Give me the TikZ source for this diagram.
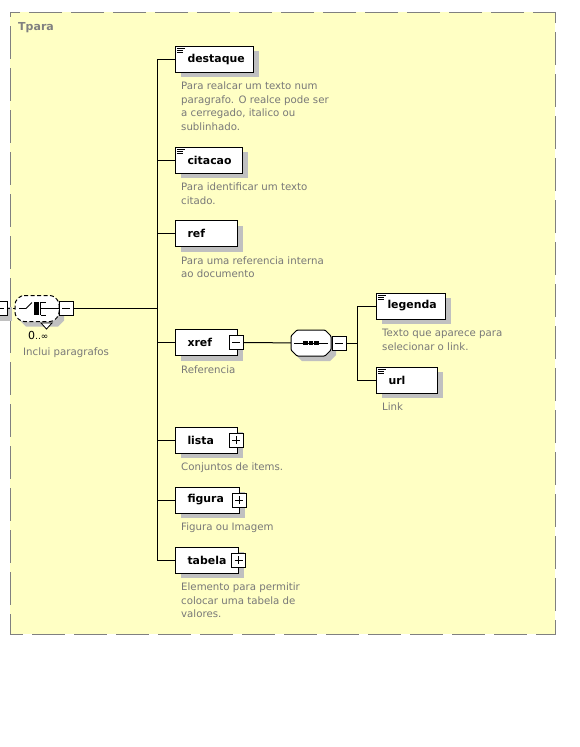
\documentclass[tikz,border=0pt]{standalone}
\usepackage{fontspec}
\setmainfont{DejaVu Sans}
\usetikzlibrary{positioning,shadows}
\definecolor{panelfill}{RGB}{255,255,196}
\definecolor{panelline}{RGB}{128,128,128}
\definecolor{doctext}{RGB}{120,120,120}
\definecolor{shadegray}{RGB}{192,192,192}
\tikzset{
  wire/.style={line width=1pt},
  boxshade/.style={drop shadow={shadow xshift=5pt, shadow yshift=-5pt, fill=shadegray, opacity=1}},
  elem/.style={draw, fill=white, line width=1pt, anchor=west, text width=#1, align=left,
    inner xsep=12pt, minimum height=26pt, font=\fontsize{10.9}{12}\selectfont\bfseries, boxshade},
  docnote/.style={anchor=base west, align=left, inner sep=0pt, text=doctext,
    font=\fontsize{10.2}{13.5}\selectfont},
  expbox/.style={draw, fill=white, line width=0.9pt, minimum width=14pt, minimum height=14pt, inner sep=0pt},
  expminus/.style={expbox, path picture={
    \draw[line width=0.9pt] ([xshift=3pt]path picture bounding box.west) -- ([xshift=-3pt]path picture bounding box.east);}},
  expplus/.style={expbox, path picture={
    \draw[line width=0.9pt] ([xshift=3pt]path picture bounding box.west) -- ([xshift=-3pt]path picture bounding box.east);
    \draw[line width=0.9pt] ([yshift=-3pt]path picture bounding box.north) -- ([yshift=3pt]path picture bounding box.south);}},
}
% compositor outline: name, x, y, half width, style of the outline
\newcommand{\compositor}[5]{%
  \fill[shadegray] (#2-#4+11,#3-8) -- (#2+#4-1,#3-8) -- (#2+#4+5,#3-2) -- (#2+#4+5,#3+12)
    -- (#2+#4-1,#3+18) -- (#2-#4+11,#3+18) -- (#2-#4+5,#3+12) -- (#2-#4+5,#3-2) -- cycle;
  \draw[fill=white, line width=1pt, #5] (#2-#4+6,#3-13) -- (#2+#4-6,#3-13) -- (#2+#4,#3-7) -- (#2+#4,#3+7)
    -- (#2+#4-6,#3+13) -- (#2-#4+6,#3+13) -- (#2-#4,#3+7) -- (#2-#4,#3-7) -- cycle;
  \node[minimum width=2*#4, minimum height=26pt, inner sep=0pt] (#1) at (#2,#3) {};
}
\newcommand{\docicon}[1]{%
  \draw[line width=0.8pt] ([xshift=2pt,yshift=-3pt]#1.north west) -- ++(8,0);
  \draw[line width=0.8pt] ([xshift=2pt,yshift=-5pt]#1.north west) -- ++(6,0);
  \draw[line width=0.8pt] ([xshift=2pt,yshift=-7pt]#1.north west) -- ++(6,0);
}

\begin{document}
\begin{tikzpicture}[x=1pt, y=-1pt]
  \useasboundingbox (0,0) rectangle (579,747);
  % complex type frame
  \draw[fill=panelfill, draw=panelline, line width=1pt, dash pattern=on 33pt off 9pt, dash phase=28pt]
    (10,12) rectangle (555,634);
  \node[anchor=west, inner sep=0pt, text=panelline, font=\fontsize{11}{12}\selectfont\bfseries] (title) at (18,28) {Tpara};

  % parent and choice
  \node[expminus, boxshade] (parentexp) at (0,308.5) {};
  \compositor{choice}{37}{308.5}{22}{dash pattern=on 4pt off 2.5pt, rounded corners=3pt}
  \node[expminus] (choiceexp) at (66,308.5) {};
  \draw[wire, dash pattern=on 3pt off 3pt] (parentexp) -- (choice);
  \fill[white, draw=black, line width=0.8pt] (41,323) -- (52,323) -- (46.5,329) -- cycle;
  % choice symbol
  \draw[line width=0.9pt] ([xshift=-18pt]choice.center) -- ++(7,0) -- ++(6,-6);
  \fill (choice.center) ++(-3,-6.5) rectangle ++(5,13);
  \draw[line width=0.9pt] (choice.center) ++(3.5,-6.5) -- ++(0,13)
    (choice.center) ++(3.5,-6.5) -- ++(5,0)
    (choice.center) ++(3.5,0) -- ++(5,0)
    (choice.center) ++(3.5,6.5) -- ++(5,0)
    ([xshift=8.5pt]choice.center) -- (choice.east);
  \node[anchor=base west, inner sep=0pt, font=\fontsize{11}{12}\selectfont] (occurs) at (28,339) {0\fontsize{9}{10}\selectfont..∞};
  \node[docnote] (choice-doc) at (23,355) {Inclui paragrafos};

  % children of the choice
  \node[elem=54pt] (destaque) at (175,59) {destaque};
  \node[elem=43pt] (citacao) at (175,160) {citacao};
  \node[elem=38pt] (ref) at (175,233.5) {ref};
  \node[elem=38pt] (xref) at (175,342.5) {xref};
  \node[elem=38pt] (lista) at (175,440) {lista};
  \node[elem=40pt] (figura) at (175,500) {figura};
  \node[elem=39pt] (tabela) at (175,560) {tabela};
  \docicon{destaque}
  \docicon{citacao}

  \node[expminus] (xrefexp) at ([xshift=-2pt]xref.east) {};
  \node[expplus] (listaexp) at ([xshift=-2pt]lista.east) {};
  \node[expplus] (figuraexp) at ([xshift=-1pt]figura.east) {};
  \node[expplus] (tabelaexp) at ([xshift=-0.5pt]tabela.east) {};

  % base of the last line: 17pt below the box, 13.5pt per line
  \node[docnote] (destaque-doc) at ([xshift=6pt,yshift=-57.5pt]destaque.south west)
    {Para realcar um texto num\\paragrafo. O realce pode ser\\a cerregado, italico ou\\sublinhado.};
  \node[docnote] (citacao-doc) at ([xshift=6pt,yshift=-30.5pt]citacao.south west) {Para identificar um texto\\citado.};
  \node[docnote] (ref-doc) at ([xshift=6pt,yshift=-30.5pt]ref.south west) {Para uma referencia interna\\ao documento};
  \node[docnote] (xref-doc) at ([xshift=6pt,yshift=-17pt]xref.south west) {Referencia};
  \node[docnote] (lista-doc) at ([xshift=6pt,yshift=-17pt]lista.south west) {Conjuntos de items.};
  \node[docnote] (figura-doc) at ([xshift=6pt,yshift=-17pt]figura.south west) {Figura ou Imagem};
  \node[docnote] (tabela-doc) at ([xshift=6pt,yshift=-44pt]tabela.south west)
    {Elemento para permitir\\colocar uma tabela de\\valores.};

  \coordinate (hub) at (157,308.5);
  \draw[wire] (choiceexp) -- (hub);
  \draw[wire] (hub |- destaque.west) -- (hub |- tabela.west);
  \foreach \el in {destaque,citacao,ref,xref,lista,figura,tabela}
    \draw[wire] (hub |- \el.west) -- (\el.west);

  % xref sequence
  \compositor{seq}{311}{343}{20}{rounded corners=1pt}
  \node[expminus] (seqexp) at (339,343) {};
  \draw[wire] ([xshift=3pt]seq.west) -- ([xshift=-3pt]seq.east);
  \foreach \i in {-1,0,1}
    \fill ([xshift=\i*5.5pt]seq.center) +(-2.2,-2.2) rectangle +(2.2,2.2);
  \draw[wire] (xrefexp) -- (seq);

  \node[elem=47pt, inner xsep=11pt] (legenda) at (376,306) {legenda};
  \node[elem=37pt, inner xsep=12pt] (url) at (376,380) {url};
  \docicon{legenda}
  \docicon{url}
  \node[docnote] (legenda-doc) at ([xshift=6pt,yshift=-30.5pt]legenda.south west) {Texto que aparece para\\selecionar o link.};
  \node[docnote] (url-doc) at ([xshift=6pt,yshift=-17pt]url.south west) {Link};

  \coordinate (subhub) at (357,343);
  \draw[wire] (seqexp) -- (subhub);
  \draw[wire] (subhub |- legenda.west) -- (subhub |- url.west);
  \foreach \el in {legenda,url}
    \draw[wire] (subhub |- \el.west) -- (\el.west);
\end{tikzpicture}
\end{document}
